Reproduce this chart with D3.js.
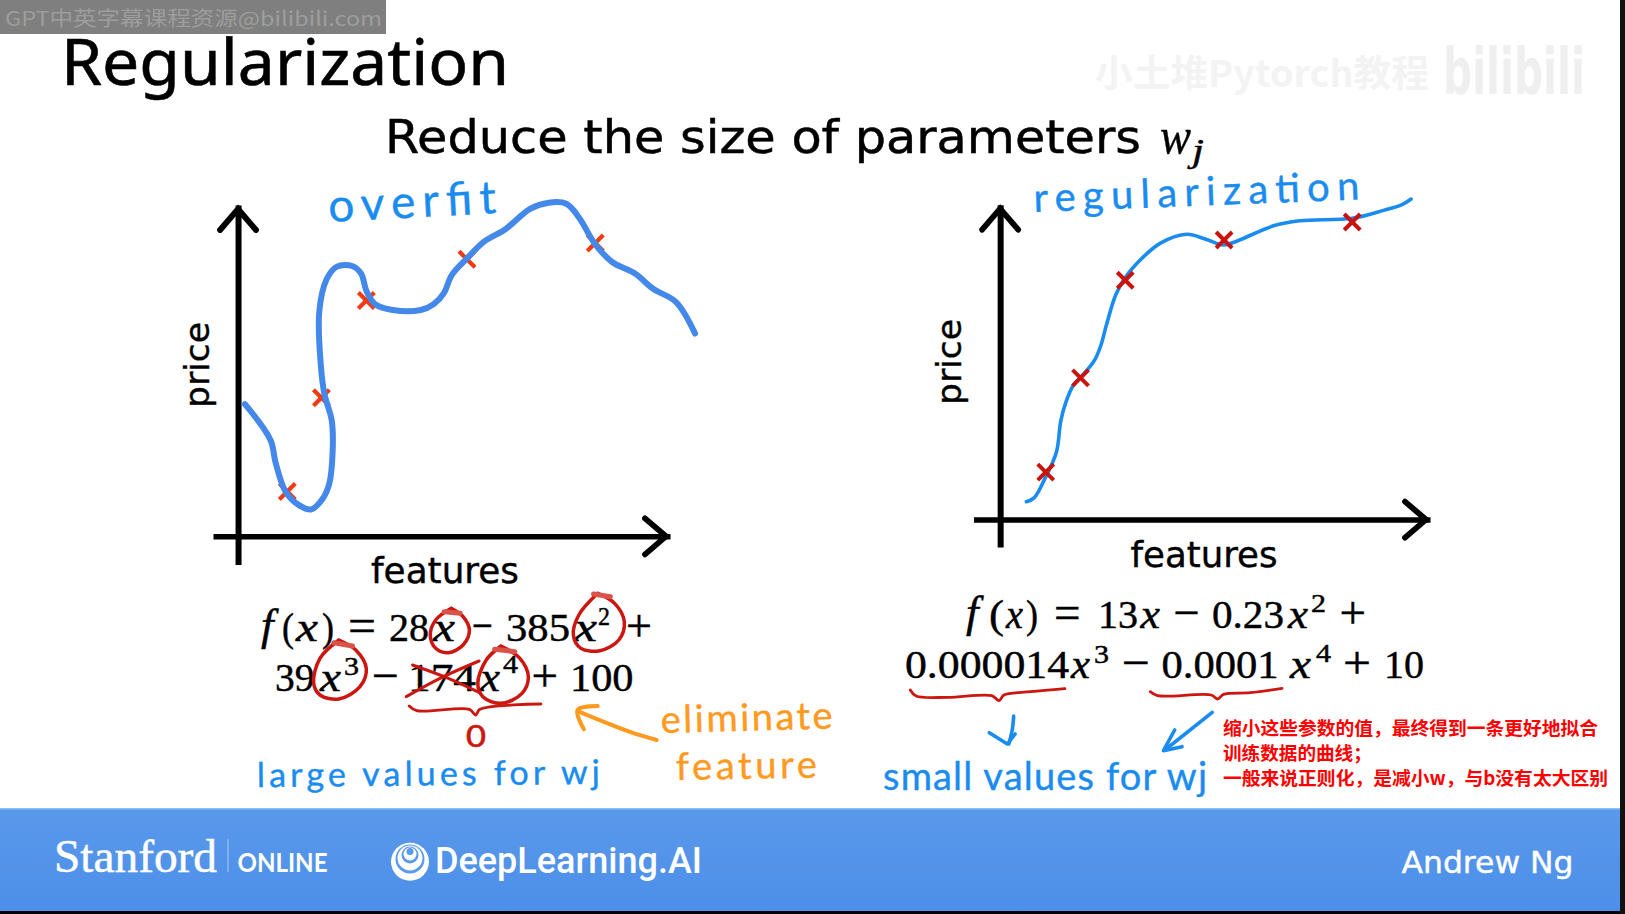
<!DOCTYPE html>
<html><head><meta charset="utf-8">
<script src="https://cdn.jsdelivr.net/npm/d3@7"></script>
<style>html,body{margin:0;padding:0;background:#fff;overflow:hidden}svg{display:block}</style>
</head><body><svg id="c" width="1625" height="914"></svg>
<script>
// ---- data (0-100 chart units) ----
const overfitX = [1.6,7.5,8.7,11.0,14.0,16.9,19.5,21.1,21.9,21.7,20.0,19.2,18.8,20.5,22.9,26.4,28.5,29.7,31.7,35.8,42.3,45.3,47.7,49.4,53.0,57.1,61.8,67.7,71.9,76.0,79.0,82.5,86.6,91.9,96.1,101.4,105.8];
const overfitY = [39.9,29.1,22.2,13.5,9.5,8.1,11.2,15.8,25.6,34.9,42.9,51.0,67.8,77.6,81.4,81.6,79.3,74.1,70.1,68.3,68.3,70.1,73.5,78.7,83.9,89.1,92.6,98.9,100.7,100.4,96.1,88.5,82.8,79.3,74.7,70.7,61.2];
const overfitPtsX = [11.4,19.3,29.7,53.0,82.7];
const overfitPtsY = [13.5,41.8,71.2,83.6,88.5];
const regX = [6.1,7.9,10.4,13.1,14.1,15.3,17.1,19.6,22.0,23.5,24.7,26.9,29.1,33.0,37.3,43.4,47.7,52.0,55.0,63.6,69.7,81.9,89.2,93.5,95.6];
const regY = [5.7,6.9,13.0,21.5,31.3,37.3,42.8,46.5,50.7,55.6,61.7,71.4,76.9,83.0,87.8,90.6,89.1,87.2,88.4,93.3,94.9,95.7,98.2,100,101.8];
const regPtsX = [10.6,18.7,29.1,52.1,81.9];
const regPtsY = [15.1,45.0,76.0,88.8,94.5];

const svg = d3.select('#c');
const INK='#000', BLUE='#1a8cf0', CURVE='#4488ea', ORANGE='#ff9a1f', RED='#cc1610';
const SANS='"DejaVu Sans",sans-serif', SERIF='"Liberation Serif",serif', HAND='Lato,sans-serif', CJK='"Noto Sans CJK SC",sans-serif';

function txt(s,x,y,o={}){
  const t=svg.append('text').attr('x',x).attr('y',y).text(s)
    .attr('font-family',o.f||SANS).attr('font-size',o.s||20).attr('fill',o.c||INK)
    .attr('font-weight',o.w||'normal').attr('font-style',o.i?'italic':'normal');
  if(o.len){t.attr('textLength',o.len).attr('lengthAdjust',o.adj||'spacingAndGlyphs');}
  if(o.sw){t.attr('stroke',o.c||INK).attr('stroke-width',o.sw);}
  if(o.rot!==undefined){t.attr('transform',`rotate(${o.rot} ${x} ${y})`);}
  if(o.sy){t.attr('transform',`translate(0 ${y}) scale(1 ${o.sy}) translate(0 ${-y})`);}
  return t;
}
const lineGen=d3.line().curve(d3.curveCatmullRom.alpha(0.5));

// ---- page frame ----
const grad=svg.append('defs').append('linearGradient').attr('id','bar').attr('x1',0).attr('x2',0).attr('y1',0).attr('y2',1);
grad.append('stop').attr('offset',0).attr('stop-color','#5a99eb');
grad.append('stop').attr('offset',1).attr('stop-color','#4c8fe9');
svg.append('rect').attr('width',1625).attr('height',914).attr('fill','#fff');
svg.append('rect').attr('x',0).attr('y',808).attr('width',1625).attr('height',103).attr('fill','url(#bar)');
svg.append('rect').attr('x',0).attr('y',808).attr('width',1625).attr('height',1.5).attr('fill','#8cc0f2');
svg.append('rect').attr('x',0).attr('y',911).attr('width',1625).attr('height',3).attr('fill','#000');
svg.append('rect').attr('x',1620).attr('y',0).attr('width',5).attr('height',914).attr('fill','#111');

// ---- watermarks ----
svg.append('rect').attr('width',386).attr('height',34).attr('fill','#7f7f7f');
txt('GPT中英字幕课程资源@bilibili.com',5,26,{f:CJK,s:20,c:'#9d9d9d',len:377});
txt('小土堆Pytorch教程',1095,87,{f:CJK,s:37,c:'#f3f3f3',w:'bold',len:334});
txt('bilibili',1443,94,{f:SANS,s:40,c:'#efefef',w:'bold',len:142,sy:1.6});

// ---- headings ----
txt('Regularization',61,85,{f:'"Noto Sans",sans-serif',s:63,len:448,sw:.6});
txt('Reduce the size of parameters',385,153,{s:47,len:756,sw:.5});
txt('w',1160,153,{f:SERIF,s:50,i:1,len:31,sw:.4});
txt('j',1192,162,{f:SERIF,s:33,i:1,len:12,sw:.4});

// ---- two charts ----
function chart(o){
  const x=d3.scaleLinear().domain(o.xd).range(o.xr);
  const y=d3.scaleLinear().domain(o.yd).range(o.yr);
  const ax=svg.append('g').attr('transform',`translate(0,${y(0)})`).call(d3.axisBottom(x).tickValues([]).tickSizeOuter(0));
  const ay=svg.append('g').attr('transform',`translate(${x(0)},0)`).call(d3.axisLeft(y).tickValues([]).tickSizeOuter(0));
  ax.select('.domain').attr('stroke',INK).attr('stroke-width',5.5);
  ay.select('.domain').attr('stroke',INK).attr('stroke-width',6);
  const inset=4, tipX=x(100)-inset, tipY=y(100)+inset, ox=x(0), oy=y(0), h=o.head;
  const head=d3.line();
  svg.append('path').attr('d',head([[tipX-h[0],oy-h[1]],[tipX,oy],[tipX-h[0],oy+h[1]]])).attr('fill','none').attr('stroke',INK).attr('stroke-width',5.8).attr('stroke-linecap','round').attr('stroke-linejoin','miter');
  svg.append('path').attr('d',head([[ox-h[1],tipY+h[0]],[ox,tipY],[ox+h[1],tipY+h[0]]])).attr('fill','none').attr('stroke',INK).attr('stroke-width',5.8).attr('stroke-linecap','round').attr('stroke-linejoin','miter');
  const cr=svg.append('g').attr('stroke',o.crossC).attr('stroke-width',o.crossW).attr('stroke-linecap','butt');
  o.px.forEach((v,i)=>{const cx=x(v),cy=y(o.py[i]),r=o.crossR;
    cr.append('line').attr('x1',cx-r).attr('y1',cy-r).attr('x2',cx+r).attr('y2',cy+r);
    cr.append('line').attr('x1',cx-r).attr('y1',cy+r).attr('x2',cx+r).attr('y2',cy-r);});
  const l=d3.line().x(d=>x(d[0])).y(d=>y(d[1])).curve(d3.curveCatmullRom.alpha(0.5));
  svg.append('path').attr('d',l(o.cx.map((v,i)=>[v,o.cy[i]]))).attr('fill','none').attr('stroke',o.curveC).attr('stroke-width',o.curveW).attr('stroke-linecap','round').attr('stroke-linejoin','round');
  if(o.crossOnTop) svg.node().appendChild(cr.node());
}
chart({xd:[-5.8,100],xr:[213,670],yd:[-8.5,100],yr:[564.5,205],head:[21,18],cx:overfitX,cy:overfitY,px:overfitPtsX,py:overfitPtsY,curveC:CURVE,curveW:6,crossC:'#f03a12',crossW:4.2,crossR:8});
chart({xd:[-6.2,100],xr:[973.5,1430],yd:[-8.7,100],yr:[547,204.7],head:[21,18],cx:regX,cy:regY,px:regPtsX,py:regPtsY,curveC:BLUE,curveW:3.6,crossC:'#c8130e',crossW:4,crossR:8,crossOnTop:true});
txt('price',209,408,{s:34,rot:-90,len:86,sw:.4});
txt('price',960.5,405,{s:34,rot:-90,len:86,sw:.4});
txt('features',371,582.5,{s:35,len:148,sw:.4});
txt('features',1130.5,567,{s:35,len:147,sw:.4});

// ---- equations: label, left, right, baseline, style ----
const eqText=[
 ['f',261,281,640,'f'],['(',282,294,641],['x',296,318,641,'i'],[')',322,334,641],['=',348,376,641,'o'],['28',389,429,641],['x',433,455,641,'i'],['−',472,493,641,'o'],['385',506,570,641],['x',574,597,641,'i'],['2',598,610,625,'e'],['+',626,652,641,'o'],
 ['39',275,314.5,691],['x',320,341,691,'i'],['3',344,359,675,'e'],['−',372,399,691,'o'],['174',408,476,691],['x',480,500,691,'i'],['4',503,518,673,'e'],['+',531.5,558,691,'o'],['100',570,633.5,691],
 ['f',966,988,627,'f'],['(',989,1004,628],['x',1006,1023,628,'i'],[')',1026,1038,628],['=',1054,1080.5,628,'o'],['13',1098,1138,628],['x',1140.5,1160,628,'i'],['−',1173.6,1200,628,'o'],['0.23',1212,1284,628],['x',1288,1308,628,'i'],['2',1311,1326,612,'e'],['+',1339.5,1366,628,'o'],
 ['0.000014',905,1069,678],['x',1071,1090,678,'i'],['3',1094,1109,663,'e'],['−',1122,1150,678,'o'],['0.0001',1161.5,1278.5,678],['x',1290,1311,678,'i'],['4',1316,1331,662,'e'],['+',1343,1371,678,'o'],['10',1384,1424,678]
];
eqText.forEach(([s,a,b,y,k])=>{
  if(k==='f') txt(s,a,y,{f:SERIF,s:45,i:true,sw:.5});
  else txt(s,a,y,{f:SERIF,s:k==='e'?25:k==='o'?46:40,i:k==='i',len:b-a,sw:.45});
});

// ---- hand-written notes ----
txt('overfit',329,222,{f:HAND,s:46,c:BLUE,rot:-3,len:168,adj:'spacing',sw:.4});
txt('regularization',1034,212,{f:HAND,s:40,c:BLUE,rot:-2.2,len:326,adj:'spacing',sw:.4});
txt('large values for wj',257,787,{f:HAND,s:34,c:BLUE,rot:-.5,len:343,adj:'spacing',sw:.4});
txt('small values for wj',883,790,{f:HAND,s:38,c:BLUE,len:324,adj:'spacing',sw:.4});
txt('eliminate',661,733,{f:HAND,s:38,c:ORANGE,rot:-1.5,len:172,adj:'spacing',sw:.4});
txt('feature',676,780,{f:HAND,s:38,c:ORANGE,rot:-1,len:141,adj:'spacing',sw:.4});
txt('0',466,747,{f:HAND,s:30,c:RED,sw:.6,len:20});

// ---- strokes over the equations (positions in crop coordinates of each region) ----
const lx=d3.scaleLinear().domain([0,1568]).range([200,860]), ly=d3.scaleLinear().domain([0,1002]).range([580,914]);
const rx=d3.scaleLinear().domain([0,1568]).range([860,1625]), ry=ly;
function stroke(pts,sx,sy,c,w,smooth=true){
  const g=smooth?lineGen:d3.line();
  svg.append('path').attr('d',g(pts.map(p=>[sx(p[0]),sy(p[1])]))).attr('fill','none').attr('stroke',c).attr('stroke-width',w).attr('stroke-linecap','round').attr('stroke-linejoin','round');
}
const ringA=[[597,85],[625,110],[640,150],[625,195],[590,218],[560,205],[547,165],[560,120],[597,85]];
const ringB=[[945,40],[985,70],[1008,125],[995,180],[950,212],[905,205],[887,165],[900,105],[945,40]];
const ringC=[[330,180],[370,210],[395,265],[380,320],[330,357],[285,345],[270,310],[285,235],[330,180]];
const ringD=[[715,198],[760,235],[780,290],[765,340],[715,370],[672,350],[660,310],[680,240],[715,198]];
[ringA,ringB,ringC,ringD].forEach(r=>stroke(r,lx,ly,RED,3.5));
[[[580,95],[618,100]],[[935,42],[975,50]],[[318,188],[362,198]],[[700,208],[748,215]]].forEach(r=>stroke(r,lx,ly,'#d9534a',5,false));
stroke([[490,350],[570,295],[663,243]],lx,ly,RED,3);
stroke([[505,255],[590,295],[663,337]],lx,ly,RED,3);
stroke([[497,378],[515,392],[640,388],[655,405],[665,388],[810,372]],lx,ly,RED,2.8);
stroke([[1085,480],[1020,455],[900,395]],lx,ly,ORANGE,4);
stroke([[945,378],[897,390],[912,448]],lx,ly,ORANGE,4);
stroke([[103,330],[115,348],[180,352],[270,347],[285,362],[295,345],[350,335],[420,326]],rx,ry,RED,2.8);
stroke([[595,335],[610,347],[720,345],[733,357],[745,343],[800,338],[865,325]],rx,ry,RED,2.8);
stroke([[315,408],[312,450],[305,492]],rx,ry,BLUE,3.6);
stroke([[265,458],[302,492],[318,462]],rx,ry,BLUE,3.6,false);
stroke([[722,397],[625,510]],rx,ry,BLUE,3.6);
stroke([[645,450],[622,512],[660,500]],rx,ry,BLUE,3.6,false);

// ---- subtitle note ----
const noteLines=['缩小这些参数的值，最终得到一条更好地拟合','训练数据的曲线；','一般来说正则化，是减小w，与b没有太大区别'];
const noteBase=[735,760,785], noteLen=[375,null,385];
noteLines.forEach((s,i)=>txt(s,1223,noteBase[i],{f:CJK,s:18.6,w:'bold',c:'#ff0000',len:noteLen[i]||undefined}));

// ---- footer ----
txt('Stanford',54,872,{f:SERIF,s:46,c:'#fff',len:163,sw:.5});
svg.append('rect').attr('x',227.5).attr('y',839).attr('width',1).attr('height',33).attr('fill','#a8c8f2');
txt('ONLINE',237.5,872,{f:'Lato,sans-serif',s:26,w:'bold',c:'#fff',len:90});
const logo=svg.append('g');
[[410,861.7,19,'#fff'],[410,859,14.5,'#5a99eb'],[410,858,12.5,'#fff'],[410,855,8.5,'#5a99eb'],[410,854,6.5,'#fff'],[410,851.5,3.5,'#5a99eb']].forEach(c=>logo.append('circle').attr('cx',c[0]).attr('cy',c[1]).attr('r',c[2]).attr('fill',c[3]));
txt('DeepLearning.AI',435,873,{f:'Roboto,sans-serif',s:37,w:500,c:'#fff',len:267});
txt('Andrew Ng',1401.5,872.7,{s:31,c:'#fff',len:172,sw:.4});
</script></body></html>
